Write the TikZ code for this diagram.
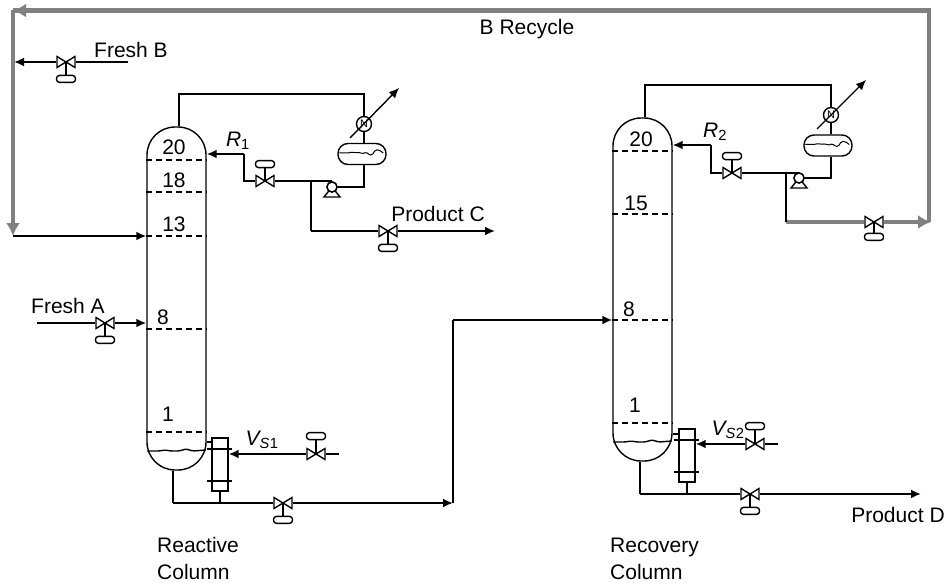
\documentclass[tikz,border=0pt]{standalone}
\usepackage{fontspec}
\setmainfont{Liberation Sans}
\usetikzlibrary{arrows.meta,positioning,calc}
\definecolor{recycle}{gray}{0.5}
\tikzset{
pipe/.style={line width=1.4pt},
line/.style={line width=2pt},
feed/.style={line width=2pt,-{Latex[length=10pt,width=9pt]}},
grey/.style={line width=4.3pt,draw=recycle},
greyfeed/.style={grey,-{Latex[length=13pt,width=14pt]}},
tray/.style={line width=1.3pt,dash pattern=on 6pt off 4pt},
column/.style={draw,line width=1.4pt,minimum width=59pt,rounded corners=28pt},
valve/.style={minimum width=20pt,minimum height=13pt,inner sep=0pt,
  path picture={\draw[line width=1.4pt] ([shift={(1pt,1pt)}]path picture bounding box.south west)
    -- ([shift={(-1pt,-1pt)}]path picture bounding box.north east)
    -- ([shift={(-1pt,1pt)}]path picture bounding box.south east)
    -- ([shift={(1pt,-1pt)}]path picture bounding box.north west) -- cycle;}},
actuator/.style={draw,line width=1.4pt,rounded corners=3pt,minimum width=19pt,minimum height=7pt,inner sep=0pt},
drum/.style={draw,line width=1.4pt,rounded corners=10pt,minimum width=48pt,minimum height=21pt,fill=white},
cond/.style={draw,circle,line width=1.4pt,minimum size=15pt,inner sep=0pt,fill=white,font=\fontsize{11}{11}\selectfont},
pump/.style={draw,circle,line width=1.4pt,minimum size=10pt,inner sep=0pt,fill=white},
reb/.style={draw,line width=1.4pt,minimum width=16pt,minimum height=53pt,fill=white},
lbl/.style={inner sep=0pt,font=\fontsize{21}{24}\selectfont},
}
\newcommand{\drumwave}[1]{\draw[line width=1pt,rounded corners=1.5pt] ([xshift=2pt,yshift=1pt]#1.west) -- ++(9,0) -- ++(4,-1) -- ++(4,1) -- ++(3,-1) -- ++(3,2) -- ++(4,-2) -- ++(3,3) -- ++(3,0) -- ++(3,-5) -- ++(4,0) -- ++(4,3);}
\newcommand{\sumpwave}[1]{\draw[line width=1.4pt,rounded corners=1.5pt] (#1) -- ++(12,0) -- ++(6,-1) -- ++(6,1) -- ++(8,0) -- ++(7,-2) -- ++(7,2) -- ++(13,-1);}
\begin{document}
\begin{tikzpicture}[x=1pt,y=-1pt]
\useasboundingbox (0,0) rectangle (948,583);
% columns
\node[column,minimum height=343pt] (colA) at (176.5,298.5) {};
\node[column,minimum height=343pt] (colB) at (642.5,289.5) {};
\foreach \yy in {160,192,236,329,432} \draw[tray] (colA.west |- 0,\yy) -- (colA.east |- 0,\yy);
\foreach \yy in {151,214,320,423} \draw[tray] (colB.west |- 0,\yy) -- (colB.east |- 0,\yy);
\sumpwave{147,451}
\sumpwave{613,442}
\foreach \tx/\ty/\tl in {174/147/20,174/180/18,174/224/13,163/317/8,168/414/1,641/139/20,636/203/15,629/309/8,635/405/1}
  \node[lbl] at (\tx,\ty) {\tl};
% fixed points, column A
\coordinate (topA) at (179,94);
\coordinate (topAr) at (364,94);
\coordinate (pumpAr) at (364,187);
\coordinate (refAc) at (244,181);
\coordinate (refAt) at (244,154);
\coordinate (teeA) at (311,181);
\coordinate (drawA) at (311,231);
\coordinate (prodC) at (495,231);
\coordinate (botA) at (173,503);
\coordinate (botAr) at (453,503);
\coordinate (upA) at (453,320);
\coordinate (steamA) at (339,454);
\coordinate (freshA) at (37,323);
\coordinate (freshB) at (128,62);
\coordinate (mixB) at (14,62);
\coordinate (feedB) at (13,236);
\coordinate (hotA) at (350,138);
\coordinate (hotAe) at (399,88);
% fixed points, column B
\coordinate (topB) at (645,85);
\coordinate (topBr) at (831,85);
\coordinate (pumpBr) at (831,178);
\coordinate (refBc) at (711,173);
\coordinate (refBt) at (711,145);
\coordinate (teeB) at (786,173);
\coordinate (drawB) at (786,222);
\coordinate (botB) at (640,494);
\coordinate (prodD) at (921,494);
\coordinate (steamB) at (778,444);
\coordinate (hotB) at (817,129);
\coordinate (hotBe) at (866,80);
% recycle
\coordinate (recR) at (931,222);
\coordinate (recC) at (929,222);
\coordinate (recTr) at (929,10.5);
\coordinate (recTl) at (13,10.5);
\coordinate (recE) at (13,236);
% equipment
\node[cond] (condA) at (364,124) {N};
\node[drum] (drumA) at (362,154) {};
\node[pump] (pumpA) at (332,187) {};
\node[reb] (rebA) at (220,464.5) {};
\node[cond] (condB) at (831,115) {N};
\node[drum] (drumB) at (828,145.5) {};
\node[pump] (pumpB) at (799,178) {};
\node[reb] (rebB) at (687,455.5) {};
% valves
\node[valve] (vR1) at (265,181) {};
\node[actuator,above=6pt of vR1] (aR1) {};
\node[valve] (vC) at (388,231) {};
\node[actuator,below=6pt of vC] (aC) {};
\node[valve] (vS1) at (316,454) {};
\node[actuator,above=7pt of vS1] (aS1) {};
\node[valve] (vBA) at (283,503) {};
\node[actuator,below=6pt of vBA] (aBA) {};
\node[valve] (vFA) at (105,323) {};
\node[actuator,below=6pt of vFA] (aFA) {};
\node[valve] (vFB) at (66,62) {};
\node[actuator,below=6pt of vFB] (aFB) {};
\node[valve] (vR2) at (732,173) {};
\node[actuator,above=6pt of vR2] (aR2) {};
\node[valve] (vS2) at (755,444) {};
\node[actuator,above=7pt of vS2] (aS2) {};
\node[valve] (vBB) at (750,494) {};
\node[actuator,below=6pt of vBB] (aBB) {};
\node[valve] (vRec) at (874,222) {};
\node[actuator,below=4pt of vRec] (aRec) {};
\foreach \vv/\aa in {vR1/aR1,vC/aC,vS1/aS1,vBA/aBA,vFA/aFA,vFB/aFB,vR2/aR2,vS2/aS2,vBB/aBB,vRec/aRec}
  \draw[pipe] (\vv.center) -- (\aa);
\drumwave{drumA}
\drumwave{drumB}
% recycle line
\draw[grey] (drawB) -- (vRec);
\draw[grey,line join=miter] (recC) -- (recTr) -- (recTl);
\draw[greyfeed] (vRec) -- (recR);
\draw[greyfeed] (recTr) -- (recTl);
\draw[greyfeed] (recTl) -- (recE);
% column A lines
\draw[pipe] (colA.north -| topA) -- (topA) -- (topAr) -- (condA) -- (drumA.north -| condA);
\draw[pipe] (drumA.south -| condA) -- (pumpAr) -- (pumpA);
\draw[pipe] (vR1 -| pumpA) -- (vR1);
\draw[pipe] (vR1) -- (refAc) -- (refAt);
\draw[feed] (refAt) -- (refAt -| colA.east);
\draw[pipe] (teeA) -- (drawA);
\draw[line] (drawA) -- (vC);
\draw[feed] (vC) -- (prodC);
\draw[pipe] (colA.south -| botA) -- (botA);
\draw[line] (botA) -- (vBA);
\draw[feed] (vBA) -- (botAr);
\draw[pipe] (botAr) -- (upA);
\draw[feed] (upA) -- (upA -| colB.west);
\draw[pipe] (rebA.south) -- (rebA.south |- botA);
\draw[pipe] (rebA.west |- 0,442) -- (colA.east |- 0,442);
\draw[pipe] ([xshift=-4pt]rebA.west |- 0,449) -- ([xshift=3pt]rebA.east |- 0,449);
\draw[pipe] ([xshift=-4pt]rebA.west |- 0,481) -- ([xshift=3pt]rebA.east |- 0,481);
\draw[line] (steamA) -- (vS1);
\draw[feed] (vS1) -- (vS1 -| rebA.east);
\draw[line] (freshA) -- (vFA);
\draw[feed] (vFA) -- (vFA -| colA.west);
\draw[line] (freshB) -- (vFB);
\draw[feed] (vFB) -- (mixB);
\draw[feed] (feedB) -- (feedB -| colA.west);
% column B lines
\draw[pipe] (colB.north -| topB) -- (topB) -- (topBr) -- (condB) -- (drumB.north -| condB);
\draw[pipe] (drumB.south -| condB) -- (pumpBr) -- (pumpB);
\draw[pipe] (vR2 -| pumpB) -- (vR2);
\draw[pipe] (vR2) -- (refBc) -- (refBt);
\draw[feed] (refBt) -- (refBt -| colB.east);
\draw[pipe] (teeB) -- (drawB);
\draw[pipe] (colB.south -| botB) -- (botB);
\draw[line] (botB) -- (vBB);
\draw[feed] (vBB) -- (prodD);
\draw[pipe] (rebB.south) -- (rebB.south |- botB);
\draw[pipe] (rebB.west |- 0,434) -- (colB.east |- 0,434);
\draw[pipe] ([xshift=-4pt]rebB.west |- 0,440) -- ([xshift=3pt]rebB.east |- 0,440);
\draw[pipe] ([xshift=-4pt]rebB.west |- 0,472) -- ([xshift=3pt]rebB.east |- 0,472);
\draw[line] (steamB) -- (vS2);
\draw[feed] (vS2) -- (vS2 -| rebB.east);
% pump feet
\draw[pipe] (pumpA.center) -- ++(-8,10) -- ++(16,0) -- cycle;
\draw[pipe] (pumpB.center) -- ++(-8,10) -- ++(16,0) -- cycle;
\node[pump] at (pumpA) {};
\node[pump] at (pumpB) {};
% heat duty arrows
\draw[pipe,-{Latex[length=10pt,width=9pt]}] (hotA) -- (hotAe);
\draw[pipe,-{Latex[length=10pt,width=9pt]}] (hotB) -- (hotBe);
% labels
\node[lbl] (lFB) at (131,50) {Fresh B};
\node[lbl] (lRec) at (527,29) {B Recycle};
\node[lbl] (lFA) at (68,306) {Fresh A};
\node[lbl] (lPC) at (438,214) {Product C};
\node[lbl] (lPD) at (898,515) {Product D};
\node[lbl] (lR1) at (238,141) {\textit{R}\textsubscript{1}};
\node[lbl] (lR2) at (715,132) {\textit{R}\textsubscript{2}};
\node[lbl] (lS1) at (262,440) {\textit{V\textsubscript{S}}\textsubscript{1}};
\node[lbl] (lS2) at (728,430) {\textit{V\textsubscript{S}}\textsubscript{2}};
\node[lbl,align=left,anchor=north west,font=\fontsize{21}{27}\selectfont] (lRA) at (157,537) {Reactive\\Column};
\node[lbl,align=left,anchor=north west,font=\fontsize{21}{26.5}\selectfont] (lRB) at (610,538) {Recovery\\Column};
\end{tikzpicture}
\end{document}
